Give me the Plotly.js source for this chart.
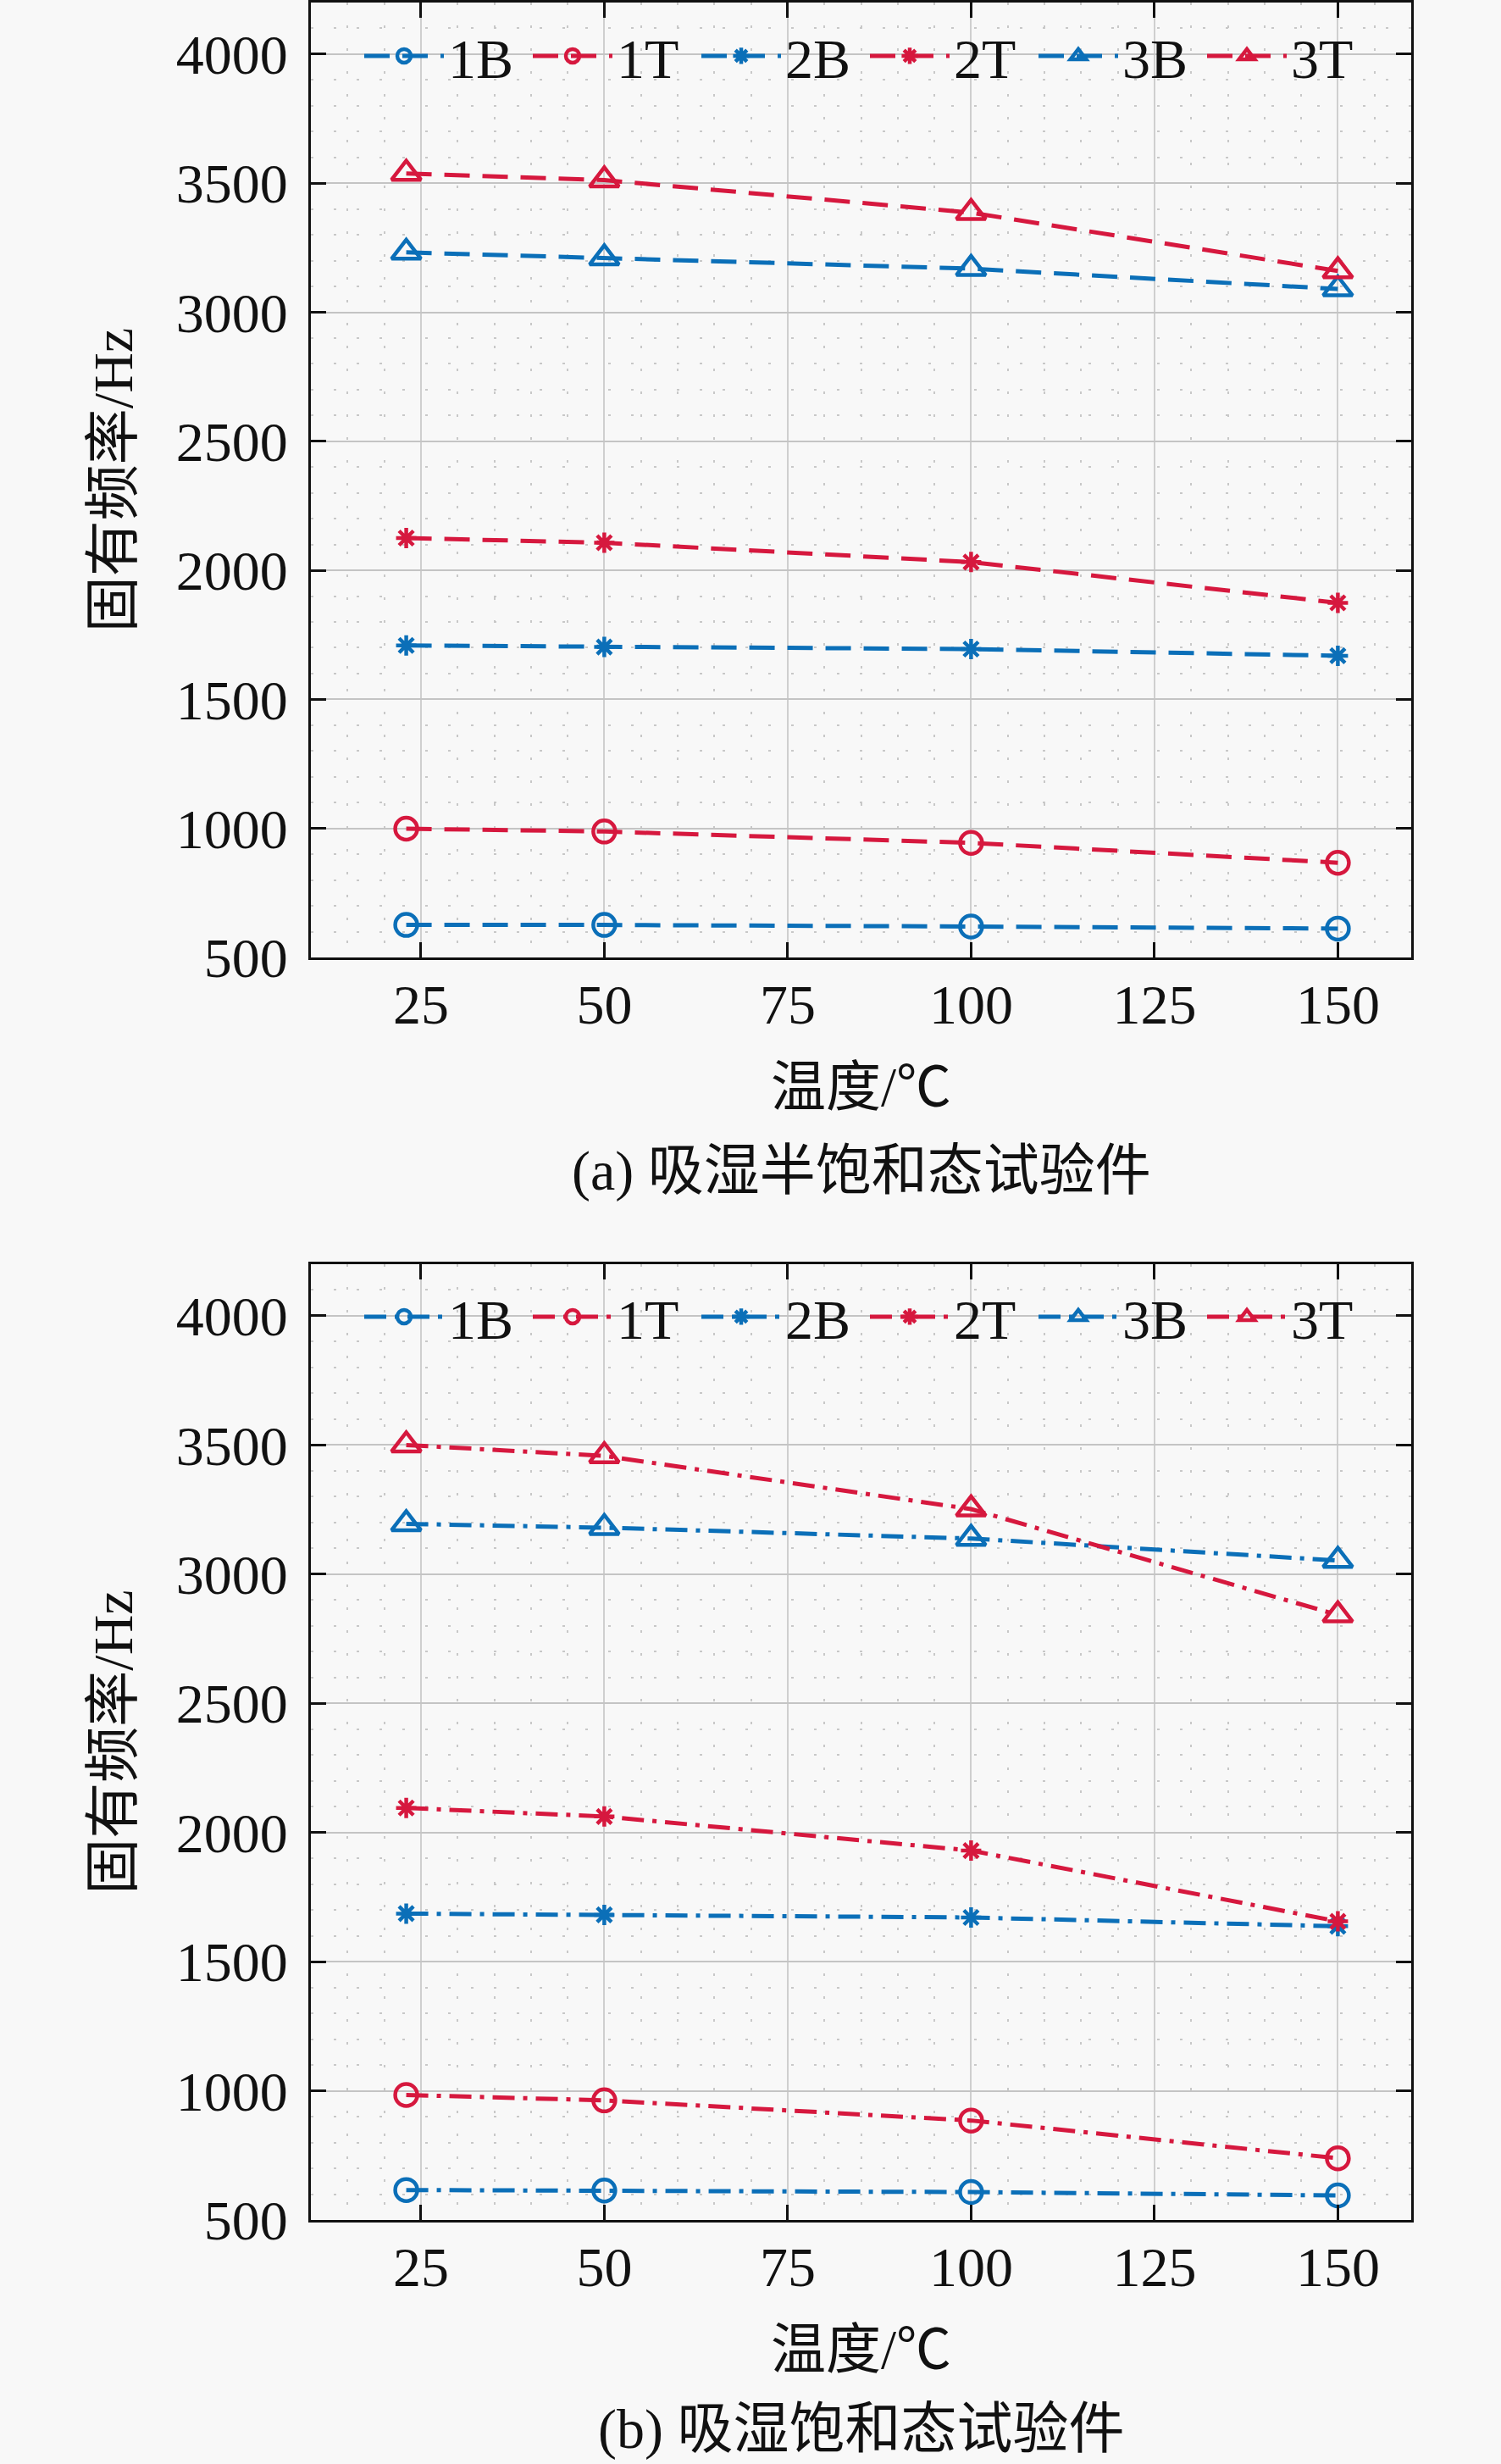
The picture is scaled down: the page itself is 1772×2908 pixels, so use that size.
<!DOCTYPE html>
<html>
<head>
<meta charset="utf-8">
<script src="https://cdn.plot.ly/plotly-3.0.1.min.js"></script>
<style>
  html, body { margin: 0; padding: 0; background: #f8f8f8; }
  #chart { width: 1772px; height: 2908px; }
</style>
</head>
<body>
<div id="chart"></div>
<script>
// temperatures (°C)
const temps = [23, 50, 100, 150];

// (a) half-saturated specimen, natural frequency (Hz)
const f1B_a = [626, 626, 620, 612];
const f1T_a = [999, 988, 944, 867];
const f2B_a = [1709, 1703, 1695, 1669];
const f2T_a = [2125, 2107, 2032, 1874];
const f3B_a = [3232, 3210, 3169, 3090];
const f3T_a = [3538, 3512, 3386, 3160];

// (b) saturated specimen
const f1B_b = [616, 614, 608, 595];
const f1T_b = [984, 963, 885, 739];
const f2B_b = [1686, 1681, 1671, 1637];
const f2T_b = [2095, 2062, 1930, 1656];
const f3B_b = [3195, 3180, 3138, 3053];
const f3T_b = [3500, 3458, 3252, 2842];

const modeNames = ['1B', '1T', '2B', '2T', '3B', '3T'];
const xTicks = [25, 50, 75, 100, 125, 150];

const BLUE = '#0b6fb8';
const RED = '#d6183e';
const FONT = 'Liberation Serif, "Noto Sans CJK SC", serif';

const colors = [BLUE, RED, BLUE, RED, BLUE, RED];
const symbols = ['circle-open', 'circle-open', 'asterisk-open', 'asterisk-open',
                 'triangle-up-open', 'triangle-up-open'];
const sizes = [26, 26, 20, 20, 30, 30];

function makeTraces(series, xa, ya, dash, legendName) {
    return series.map(function (vals, i) {
        return {
            x: temps,
            y: vals,
            name: modeNames[i],
            type: 'scatter',
            mode: 'lines+markers',
            xaxis: xa,
            yaxis: ya,
            legend: legendName,
            line: { color: colors[i], width: 5, dash: dash },
            marker: {
                symbol: symbols[i],
                size: sizes[i],
                color: colors[i],
                line: { color: colors[i], width: 4.5 }
            }
        };
    });
}

const traces = []
    .concat(makeTraces([f1B_a, f1T_a, f2B_a, f2T_a, f3B_a, f3T_a], 'x', 'y', '30px,15px', 'legend'))
    .concat(makeTraces([f1B_b, f1T_b, f2B_b, f2T_b, f3B_b, f3T_b], 'x2', 'y2', '26px,10px,5px,10px', 'legend2'));

function xAxis(anchor) {
    return {
        anchor: anchor,
        domain: [367 / 1772, 1666 / 1772],
        range: [10, 160],
        tickvals: xTicks,
        ticks: 'inside',
        ticklen: 18,
        tickwidth: 3,
        tickcolor: '#111',
        showline: true,
        linewidth: 3,
        linecolor: '#111',
        mirror: 'ticks',
        showgrid: true,
        gridcolor: '#cfcfcf',
        gridwidth: 2,
        zeroline: false,
        ticklabelstandoff: -4,
        tickfont: { family: FONT, size: 66, color: '#111' },
        minor: { dtick: 5, tick0: 0, showgrid: true, gridcolor: '#c8c8c8', gridwidth: 2, griddash: '3px,24px' },
        title: { text: '温度/℃', font: { family: FONT, size: 65, color: '#111' }, standoff: 39 }
    };
}

function yAxis(anchor, dom) {
    return {
        anchor: anchor,
        domain: dom,
        range: [500, 4200],
        dtick: 500,
        tick0: 0,
        ticks: 'inside',
        ticklen: 18,
        tickwidth: 3,
        tickcolor: '#111',
        showline: true,
        linewidth: 3,
        linecolor: '#111',
        mirror: 'ticks',
        showgrid: true,
        gridcolor: '#c4c4c4',
        gridwidth: 2,
        zeroline: false,
        ticklabelstandoff: 11,
        tickfont: { family: FONT, size: 66, color: '#111' },
        minor: { dtick: 100, tick0: 0, showgrid: true, gridcolor: '#c8c8c8', gridwidth: 2, griddash: '3px,24px' },
        title: { text: '固有频率/Hz', font: { family: FONT, size: 66, color: '#111' }, standoff: 30 }
    };
}

function legendBox(yPos) {
    return {
        orientation: 'h',
        x: 425 / 1772,
        xanchor: 'left',
        y: yPos,
        yanchor: 'middle',
        bgcolor: 'rgba(0,0,0,0)',
        borderwidth: 0,
        itemwidth: 94,
        entrywidth: 90,
        tracegroupgap: 0,
        font: { family: FONT, size: 66, color: '#111' }
    };
}

const layout = {
    width: 1772,
    height: 2908,
    margin: { l: 0, r: 0, t: 0, b: 0 },
    paper_bgcolor: '#f8f8f8',
    plot_bgcolor: '#f8f8f8',
    showlegend: true,
    xaxis: xAxis('y'),
    yaxis: yAxis('x', [(2908 - 1130) / 2908, (2908 - 3) / 2908]),
    xaxis2: xAxis('y2'),
    yaxis2: yAxis('x2', [(2908 - 2620) / 2908, (2908 - 1492) / 2908]),
    legend: legendBox((2908 - 66) / 2908),
    legend2: legendBox((2908 - 1554) / 2908),
    annotations: [
        {
            text: '(a) 吸湿半饱和态试验件',
            xref: 'paper', yref: 'paper',
            x: 1017 / 1772, y: (2908 - 1382) / 2908,
            xanchor: 'center', yanchor: 'middle',
            showarrow: false,
            font: { family: FONT, size: 66, color: '#111' }
        },
        {
            text: '(b) 吸湿饱和态试验件',
            xref: 'paper', yref: 'paper',
            x: 1017 / 1772, y: (2908 - 2867) / 2908,
            xanchor: 'center', yanchor: 'middle',
            showarrow: false,
            font: { family: FONT, size: 66, color: '#111' }
        }
    ]
};

Plotly.newPlot('chart', traces, layout, { staticPlot: true });
</script>
</body>
</html>
